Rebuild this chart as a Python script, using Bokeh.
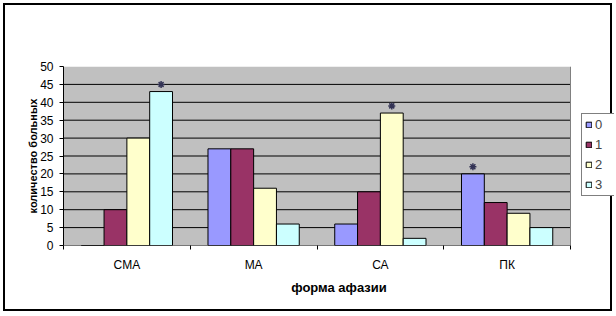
from bokeh.plotting import figure
from bokeh.models import (ColumnDataSource, FixedTicker, Legend,
                          LegendItem, Range1d)
from bokeh.embed import file_html
from bokeh.resources import INLINE

categories = ["СМА", "МА", "СА", "ПК"]
series_names = ["0", "1", "2", "3"]
series_values = [
    [0, 27, 6, 20],    # 0
    [10, 27, 15, 12],  # 1
    [30, 16, 37, 9],   # 2
    [43, 6, 2, 5],     # 3
]
# "*" marks above bars (1 = marked)
series_marks = [
    [0, 0, 0, 1],
    [0, 0, 0, 0],
    [0, 0, 1, 0],
    [1, 0, 0, 0],
]
colors = ["#9999FF", "#993366", "#FFFFCC", "#CCFFFF"]
y_ticks = [0, 5, 10, 15, 20, 25, 30, 35, 40, 45, 50]

FONT = "Liberation Sans"
BAR_W = 0.18
N = len(categories)
# frame spans the plot area plus the legend strip on the right
EXTRA = 551 / 507

p = figure(width=609, height=308, output_backend="svg", toolbar_location=None,
           x_range=Range1d(0, N * EXTRA), y_range=Range1d(y_ticks[0], y_ticks[-1]),
           min_border_left=58, min_border_top=61, min_border_right=0,
           min_border_bottom=68)
p.styles = {"border": "2px solid black", "margin": "3px 0 0 3px"}
p.background_fill_color = "white"
p.border_fill_color = "white"
p.outline_line_color = None
p.xgrid.visible = False
p.ygrid.visible = False

# plot area (gray) and gridlines
p.quad(left=0, right=N, bottom=y_ticks[0], top=y_ticks[-1],
       fill_color="#C0C0C0", line_color=None)
grid_y = y_ticks[1:-1]
p.segment(x0=[0] * len(grid_y), x1=[N] * len(grid_y), y0=grid_y, y1=grid_y,
          line_color="black", line_width=1)

items = []
for i, (name, vals) in enumerate(zip(series_names, series_values)):
    xs = [k + 0.5 + (i - 1.5) * BAR_W for k in range(N)]
    src = ColumnDataSource(dict(x=xs, top=vals))
    r = p.vbar(x="x", top="top", width=BAR_W, source=src, fill_color=colors[i],
               line_color="black", line_width=1)
    items.append(LegendItem(label=name, renderers=[r]))
    mx = [x for x, m in zip(xs, series_marks[i]) if m]
    my = [v + 2 for v, m in zip(vals, series_marks[i]) if m]
    if mx:
        p.scatter(mx, my, marker="asterisk", size=7, line_color="#333355",
                  line_width=1.5)

# right edge of plot area and x axis line
p.segment(x0=[N], x1=[N], y0=[y_ticks[0]], y1=[y_ticks[-1]],
          line_color="#808080", line_width=1)
p.segment(x0=[0], x1=[N], y0=[y_ticks[0]], y1=[y_ticks[0]],
          line_color="black", line_width=1)

# x axis
xa = p.xaxis[0]
xa.ticker = FixedTicker(ticks=[k + 0.5 for k in range(N)],
                        minor_ticks=list(range(N + 1)))
xa.major_label_overrides = {k + 0.5: c for k, c in enumerate(categories)}
xa.major_tick_line_color = None
xa.major_tick_out = 0
xa.major_tick_in = 0
xa.minor_tick_out = 4
xa.minor_tick_in = 0
xa.minor_tick_line_color = "black"
xa.axis_line_color = None
xa.major_label_standoff = 8
xa.major_label_text_font = FONT
xa.major_label_text_font_size = "12px"
xa.major_label_text_color = "black"
xa.axis_label = "форма афазии"
xa.axis_label_text_font = FONT
xa.axis_label_text_font_size = "13px"
xa.axis_label_text_font_style = "bold"
xa.axis_label_text_color = "black"
xa.axis_label_standoff = 5

# y axis
ya = p.yaxis[0]
ya.ticker = FixedTicker(ticks=y_ticks)
ya.major_tick_out = 4
ya.major_tick_in = 0
ya.minor_tick_line_color = None
ya.axis_line_color = "black"
ya.major_tick_line_color = "black"
ya.major_label_standoff = 6
ya.major_label_text_font = FONT
ya.major_label_text_font_size = "12px"
ya.major_label_text_color = "black"
ya.axis_label = "количество больных"
ya.axis_label_text_font = FONT
ya.axis_label_text_font_size = "11px"
ya.axis_label_text_font_style = "bold"
ya.axis_label_text_color = "black"
ya.axis_label_standoff = -2

legend = Legend(items=items, location=(518, 49), margin=0, padding=3,
                spacing=5, glyph_width=7, glyph_height=7, label_height=14,
                label_standoff=3, label_text_font=FONT,
                label_text_font_size="13px", border_line_color="black",
                border_line_width=1, background_fill_color="white",
                background_fill_alpha=1)
p.add_layout(legend)

open("out.html", "w").write(file_html(p, INLINE))
